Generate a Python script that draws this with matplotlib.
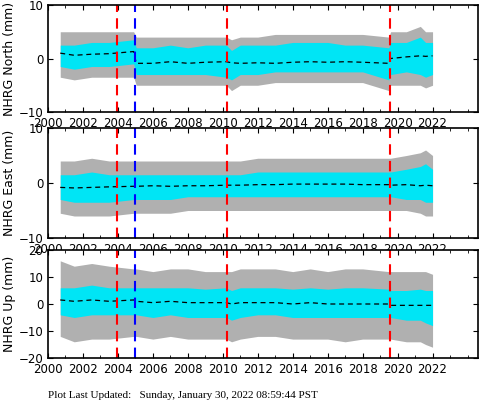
import matplotlib
matplotlib.use("Agg")
import matplotlib.pyplot as plt
import numpy as np

# time knots (years)
t = [2000.7, 2001.5, 2002.5, 2003.5, 2004.9, 2005.05, 2006, 2007, 2008, 2009, 2010.2, 2010.5, 2011, 2012, 2013, 2014, 2015, 2016, 2017, 2018, 2019.5, 2019.6, 2020.5, 2021.3, 2021.6, 2022.0]
# North
n_trend = [1.0, 0.6, 0.8, 0.9, 1.3, -0.9, -0.9, -0.6, -0.9, -0.7, -0.6, -0.8, -0.9, -0.8, -0.9, -0.7, -0.6, -0.7, -0.6, -0.7, -0.9, 0.0, 0.3, 0.5, 0.4, 0.5]
n_gray_hi = [5, 5, 5, 5, 5, 4, 4, 4, 4, 4, 4, 3.5, 4, 4, 4.5, 4.5, 4.5, 4.5, 4.5, 4.5, 4, 5, 5, 6, 5, 5]
n_gray_lo = [-3.5, -4, -3.5, -3.5, -3.5, -5, -5, -5, -5, -5, -5, -6, -5, -5, -4.5, -4.5, -4.5, -4.5, -4.5, -4.5, -6, -5, -5, -5, -5.5, -5]
n_cyan_hi = [2.5, 2.5, 3, 3, 3.5, 2, 2, 2.5, 2, 2.5, 2.5, 1.5, 2.5, 2.5, 2.5, 3, 3, 3, 2.5, 2.5, 2, 3, 3, 4, 3, 3]
n_cyan_lo = [-1.5, -2, -1.5, -1.5, -1, -3, -3, -3, -3, -3, -3.5, -4, -3, -3, -2.5, -2.5, -2.5, -2.5, -2.5, -2.5, -4, -3, -2.5, -3, -3.5, -3]
# East
e_trend = [-0.8, -0.9, -0.8, -0.7, -0.6, -0.6, -0.5, -0.6, -0.5, -0.5, -0.4, -0.4, -0.4, -0.3, -0.3, -0.2, -0.2, -0.2, -0.2, -0.3, -0.3, -0.4, -0.3, -0.5, -0.4, -0.5]
e_gray_hi = [4, 4, 4.5, 4, 4, 4, 4, 4, 4, 4, 4, 4, 4, 4.5, 4.5, 4.5, 4.5, 4.5, 4.5, 4.5, 4.5, 4.5, 5, 5.5, 6, 5]
e_gray_lo = [-5.5, -6, -6, -6, -5.5, -5.5, -5.5, -5.5, -5, -5, -5, -5, -5, -5, -5, -5, -5, -5, -5, -5, -5, -5, -5, -5.5, -6, -6]
e_cyan_hi = [1.5, 1.5, 2, 1.5, 1.5, 1.5, 1.5, 1.5, 1.5, 1.5, 1.5, 1.5, 1.5, 2, 2, 2, 2, 2, 2, 2, 2, 2, 2.5, 3, 3.5, 2.5]
e_cyan_lo = [-3, -3.5, -3.5, -3.5, -3, -3, -3, -3, -2.5, -2.5, -2.5, -2.5, -2.5, -2.5, -2.5, -2.5, -2.5, -2.5, -2.5, -2.5, -2.5, -2.5, -3, -3, -3.5, -3.5]
# Up
u_trend = [1.5, 1.0, 1.5, 1.0, 1.5, 1.0, 0.5, 1.0, 0.5, 0.5, 0.5, 0.0, 0.5, 0.5, 0.5, 0.0, 0.5, 0.0, 0.0, 0.0, 0.0, -0.5, -0.5, -0.5, -0.5, -0.5]
u_gray_hi = [16, 14, 15, 14, 13, 13, 12, 13, 13, 12, 12, 12, 13, 13, 13, 12, 13, 12, 13, 13, 12, 12, 12, 12, 12, 11]
u_gray_lo = [-12, -14, -13, -13, -12, -12, -13, -12, -13, -13, -13, -14, -13, -12, -12, -13, -13, -13, -14, -13, -13, -13, -14, -14, -15, -16]
u_cyan_hi = [6, 6, 7, 6, 6, 6, 6, 6, 6, 5.5, 6, 5, 6, 6, 6, 5.5, 6, 5.5, 6, 6, 5.5, 5, 5, 5.5, 5, 5]
u_cyan_lo = [-4, -5, -4, -4, -4, -4, -5, -4, -5, -5, -5, -6, -5, -4, -4, -5, -5, -5, -5, -5, -5, -5, -6, -6, -7, -8]

events_red = [2003.95, 2010.25, 2019.55]
events_blue = [2005.0]
xticks = list(range(2000, 2024, 2))

panels = [
    ("NHRG North (mm)", (-10, 10), [-10, 0, 10], n_trend, n_gray_hi, n_gray_lo, n_cyan_hi, n_cyan_lo),
    ("NHRG East (mm)", (-10, 10), [-10, 0, 10], e_trend, e_gray_hi, e_gray_lo, e_cyan_hi, e_cyan_lo),
    ("NHRG Up (mm)", (-20, 20), [-20, -10, 0, 10, 20], u_trend, u_gray_hi, u_gray_lo, u_cyan_hi, u_cyan_lo),
]

fig = plt.figure(figsize=(4.81, 4.04), dpi=100)
rects = [(48/481, 1-112/404, 430/481, 107/404),
         (48/481, 1-238/404, 430/481, 110/404),
         (48/481, 1-358/404, 430/481, 108/404)]
for (lab, yl, yt, tr, ghi, glo, chi, clo), r in zip(panels, rects):
    ax = fig.add_axes(r)
    ax.fill_between(t, glo, ghi, color="#b0b0b0", lw=0)
    ax.fill_between(t, clo, chi, color="#00e5f5", lw=0)
    ax.plot(t, tr, color="black", ls=(0, (4, 3)), lw=0.9)
    for e in events_red:
        ax.axvline(e, color="red", ls=(0, (5, 3)), lw=1.5)
    for e in events_blue:
        ax.axvline(e, color="blue", ls=(0, (5, 3)), lw=1.5)
    ax.set_xlim(2000, 2024.6)
    ax.set_ylim(*yl)
    ax.set_yticks(yt)
    ax.set_xticks(xticks)
    ax.set_xticks(np.arange(2000, 2025, 1), minor=True)
    ax.tick_params(direction="in", labelsize=8.5, top=True, right=True, which="both")
    ax.tick_params(which="minor", length=2)
    ax.set_xticklabels([str(x) for x in xticks])
    ax.set_ylabel(lab, fontsize=9, labelpad=2)
    for s in ax.spines.values():
        s.set_linewidth(1.2)
fig.text(48/481, 1-398/404, "Plot Last Updated:   Sunday, January 30, 2022 08:59:44 PST",
         fontsize=8, family="Liberation Serif")
fig.savefig("out.png", dpi=100)
